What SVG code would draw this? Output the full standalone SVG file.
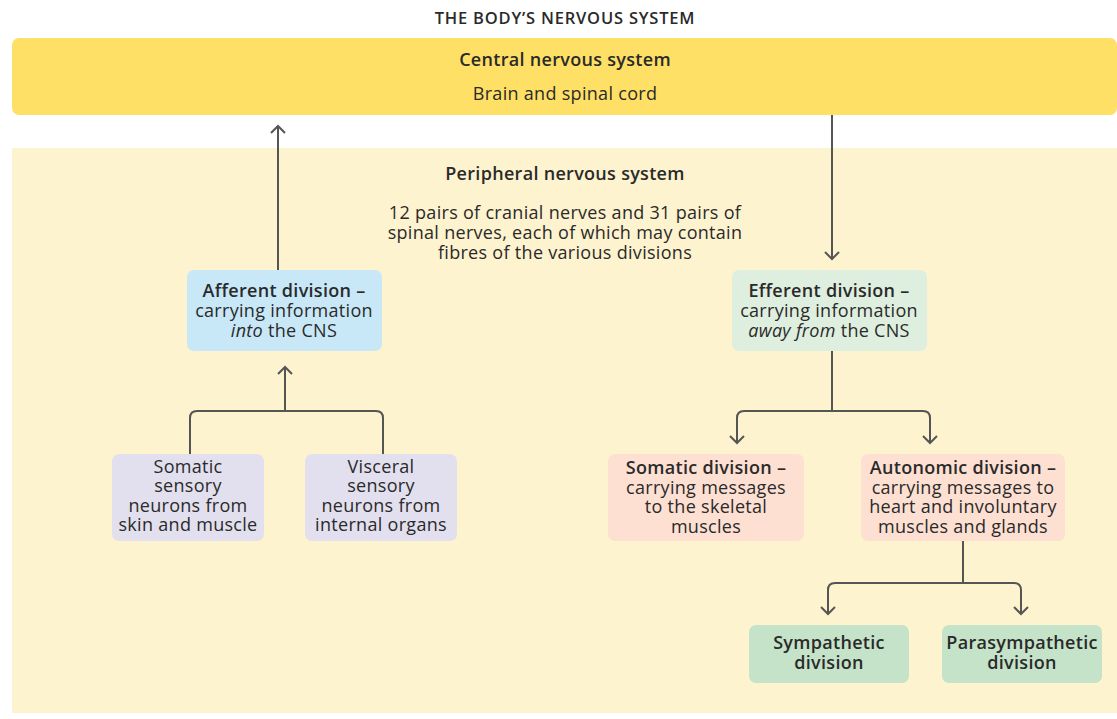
<svg xmlns="http://www.w3.org/2000/svg" width="1117" height="719" viewBox="0 0 1117 719">
<style>
text{font-family:"Open Sans","Noto Sans","Liberation Sans",sans-serif;font-size:18px;letter-spacing:0.3px;fill:#2a2a2a;text-anchor:middle}
.b{font-weight:600}
.t{font-size:16.5px;font-weight:600;letter-spacing:0.8px}
.ln{fill:none;stroke:#555;stroke-width:2;stroke-linejoin:round}
</style>
<defs>
<marker id="ah" viewBox="0 0 16 16" refX="8" refY="8" markerWidth="16" markerHeight="16" markerUnits="userSpaceOnUse" orient="auto">
<path d="M1 1 L8 8 L1 15" fill="none" stroke="#555" stroke-width="2"/>
</marker>
</defs>
<rect width="1117" height="719" fill="#fff"/>
<text class="t" x="565" y="24">THE BODY’S NERVOUS SYSTEM</text>
<g id="cns">
<rect x="12" y="38" width="1105" height="77" rx="7" fill="#FFE066"/>
<text class="b" x="565" y="66">Central nervous system</text>
<text x="565" y="100">Brain and spinal cord</text>
</g>
<g id="pns">
<rect x="12" y="148" width="1105" height="565" fill="#FEF3CF"/>
<text class="b" x="565" y="180">Peripheral nervous system</text>
<text x="565" y="219">12 pairs of cranial nerves and 31 pairs of</text>
<text x="565" y="239">spinal nerves, each of which may contain</text>
<text x="565" y="259">fibres of the various divisions</text>
</g>
<g id="connectors">
<path class="ln" d="M278 270 V126" marker-end="url(#ah)"/>
<path class="ln" d="M832 115 V259" marker-end="url(#ah)"/>
<path class="ln" d="M285 411 V367" marker-end="url(#ah)"/>
<path class="ln" d="M190 454 V418 Q190 411 197 411 H376 Q383 411 383 418 V454"/>
<path class="ln" d="M832 351 V411"/>
<path class="ln" d="M737 443 V418 Q737 411 744 411 H923 Q930 411 930 418 V443" marker-end="url(#ah)"/>
<path class="ln" d="M737 418 V443" marker-end="url(#ah)"/>
<path class="ln" d="M963 541 V583"/>
<path class="ln" d="M828 614 V590 Q828 583 835 583 H1014 Q1021 583 1021 590 V614" marker-end="url(#ah)"/>
<path class="ln" d="M828 590 V614" marker-end="url(#ah)"/>
</g>
<g id="afferent">
<rect x="187" y="270" width="195" height="81" rx="7" fill="#C8E8F8"/>
<text class="b" x="284" y="297">Afferent division –</text>
<text x="284" y="317">carrying information</text>
<text x="284" y="337"><tspan font-style="italic">into</tspan> the CNS</text>
</g>
<g id="efferent">
<rect x="732" y="270" width="195" height="81" rx="7" fill="#DFEFDF"/>
<text class="b" x="829" y="297">Efferent division –</text>
<text x="829" y="317">carrying information</text>
<text x="829" y="337"><tspan font-style="italic">away from</tspan> the CNS</text>
</g>
<g id="somatic-sensory">
<rect x="112" y="454" width="152" height="87" rx="7" fill="#E2E0EE"/>
<text x="188" y="473">Somatic</text>
<text x="188" y="492">sensory</text>
<text x="188" y="512">neurons from</text>
<text x="188" y="531">skin and muscle</text>
</g>
<g id="visceral-sensory">
<rect x="305" y="454" width="152" height="87" rx="7" fill="#E2E0EE"/>
<text x="381" y="473">Visceral</text>
<text x="381" y="492">sensory</text>
<text x="381" y="512">neurons from</text>
<text x="381" y="531">internal organs</text>
</g>
<g id="somatic-division">
<rect x="608" y="454" width="196" height="87" rx="7" fill="#FDE0D2"/>
<text class="b" x="706" y="474">Somatic division –</text>
<text x="706" y="494">carrying messages</text>
<text x="706" y="513">to the skeletal</text>
<text x="706" y="533">muscles</text>
</g>
<g id="autonomic-division">
<rect x="861" y="454" width="204" height="87" rx="7" fill="#FDE0D2"/>
<text class="b" x="963" y="474">Autonomic division –</text>
<text x="963" y="494">carrying messages to</text>
<text x="963" y="513">heart and involuntary</text>
<text x="963" y="533">muscles and glands</text>
</g>
<g id="sympathetic">
<rect x="749" y="625" width="160" height="58" rx="7" fill="#C5E3C8"/>
<text class="b" x="829" y="649">Sympathetic</text>
<text class="b" x="829" y="669">division</text>
</g>
<g id="parasympathetic">
<rect x="942" y="625" width="160" height="58" rx="7" fill="#C5E3C8"/>
<text class="b" x="1022" y="649">Parasympathetic</text>
<text class="b" x="1022" y="669">division</text>
</g>
</svg>
